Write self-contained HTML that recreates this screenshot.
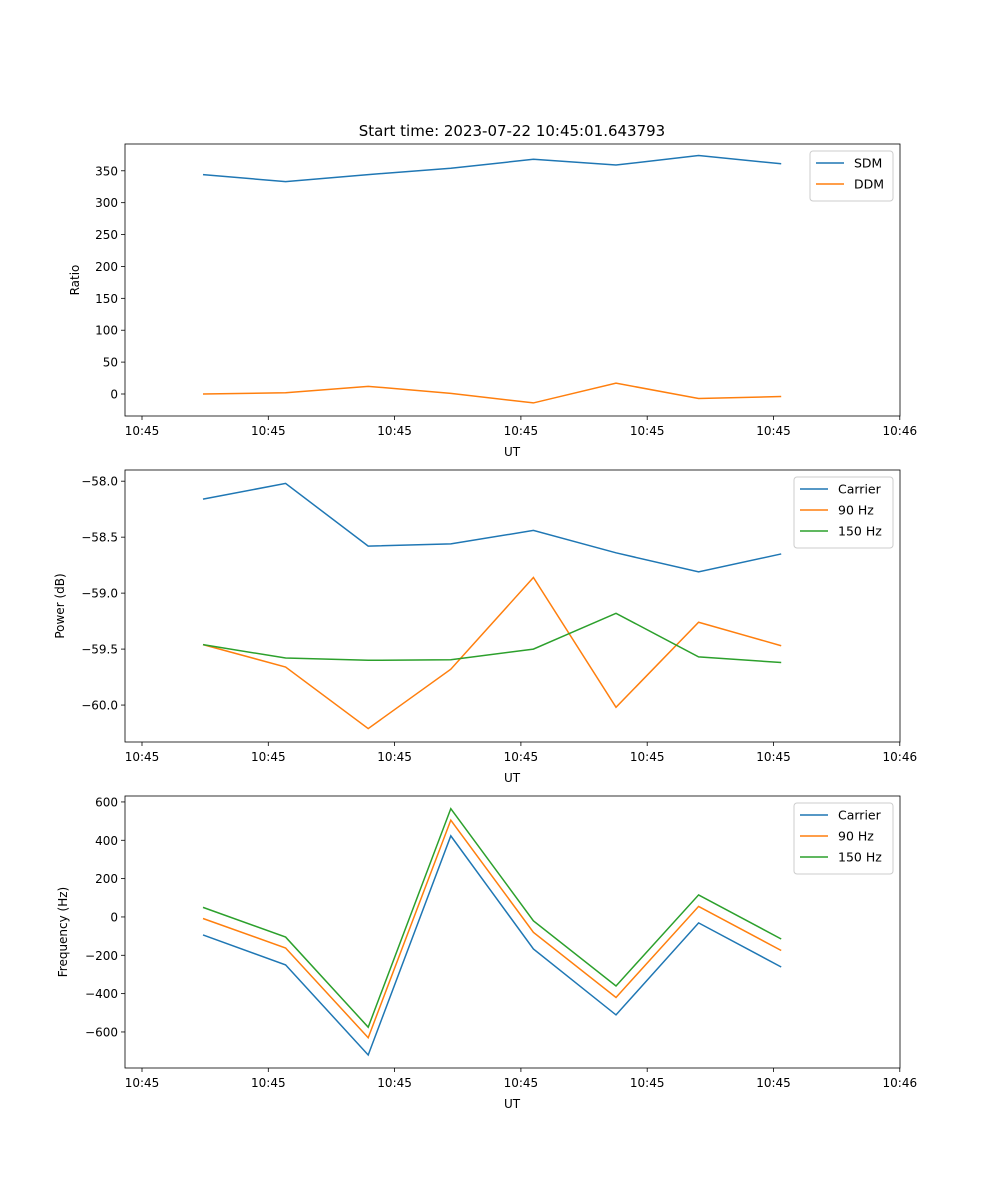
<!DOCTYPE html>
<html><head><meta charset="utf-8"><style>body{margin:0;background:#fff}svg{display:block;font-family:"DejaVu Sans","Liberation Sans",sans-serif}</style></head>
<body>
<svg id="chart" width="1000" height="1200" xmlns="http://www.w3.org/2000/svg">
<text x="512" y="136" font-size="15" text-anchor="middle">Start time: 2023-07-22 10:45:01.643793</text>
</svg>
<script>
const tickLabels = ["10:45","10:45","10:45","10:45","10:45","10:45","10:46"];
const tickSecs = [0,1,2,3,4,5,6];
const times = [0.483,1.137,1.791,2.445,3.099,3.753,4.407,5.061];
const sdm = [344,333,344,354,368,359,374,361];
const ddm = [0,2,12,1,-14,17,-7,-4];
const powCarrier = [-58.16,-58.02,-58.58,-58.56,-58.44,-58.64,-58.81,-58.65];
const pow90 = [-59.46,-59.66,-60.21,-59.68,-58.86,-60.02,-59.26,-59.47];
const pow150 = [-59.46,-59.58,-59.60,-59.595,-59.50,-59.18,-59.57,-59.62];
const freqCarrier = [-94,-250,-720,423,-167,-511,-31,-261];
const freq90 = [-8,-162,-630,505,-80,-420,55,-175];
const freq150 = [50,-105,-575,565,-20,-360,115,-115];
const ticks1 = [0,50,100,150,200,250,300,350];
const ticks2 = [-60.0,-59.5,-59.0,-58.5,-58.0];
const ticks3 = [-600,-400,-200,0,200,400,600];
const C = ["#1f77b4","#ff7f0e","#2ca02c"];
const svg = document.getElementById('chart');
const NS = "http://www.w3.org/2000/svg";
function mk(tag, attrs, parent){const e=document.createElementNS(NS,tag);for(const k in attrs)e.setAttribute(k,attrs[k]);(parent||svg).appendChild(e);return e;}
const L=125,R=900;
const xs = t => 142 + t*126.3;
function panel(id, top, bottom, ymin, ymax, yticks, fmt, ylabel, ylx, series, names, legW){
  const g=mk('g',{});
  
  
  const ys = v => bottom - (v-ymin)/(ymax-ymin)*(bottom-top);
  yticks.forEach(v=>{const y=ys(v);
    mk('line',{x1:L-4,x2:L,y1:y,y2:y,stroke:'#000','stroke-width':0.8},g);
    const t=mk('text',{x:L-7,y:y+4.5,'font-size':12,'text-anchor':'end'},g);t.textContent=fmt(v);
    
    });
  tickSecs.forEach((s,i)=>{const x=xs(s);
    mk('line',{x1:x,x2:x,y1:bottom,y2:bottom+4,stroke:'#000','stroke-width':0.8},g);
    const t=mk('text',{x:x,y:bottom+19,'font-size':12,'text-anchor':'middle'},g);t.textContent=tickLabels[i];
    
    });
  const xl=mk('text',{x:512,y:bottom+40,'font-size':12,'text-anchor':'middle'},g);xl.textContent='UT';
  
  
  const yl=mk('text',{x:0,y:0,'font-size':12,'text-anchor':'middle',transform:`translate(${ylx},${(top+bottom)/2}) rotate(-90)`},g);yl.textContent=ylabel;
  
  
  series.forEach((d,k)=>{
    const p=mk('polyline',{points:d.map((v,i)=>xs(times[i])+','+ys(v)).join(' '),fill:'none',stroke:C[k],'stroke-width':1.5},g);
    
    
  });
  mk('rect',{x:L,y:top,width:R-L,height:bottom-top,fill:'none',stroke:'#000','stroke-width':0.8},g);
  const lx=R-7-legW, ly=top+7;
  const lg=mk('g',{},g);
  
  
  mk('rect',{x:lx,y:ly,width:legW,height:8+names.length*21,rx:3,fill:'#fff',stroke:'#ccc','stroke-width':1},lg);
  names.forEach((n,k)=>{const yy=ly+12+k*21;
    mk('line',{x1:lx+6,x2:lx+34,y1:yy,y2:yy,stroke:C[k],'stroke-width':1.5},lg);
    const t=mk('text',{x:lx+44,y:yy+4.5,'font-size':12.5},lg);t.textContent=n;
    
    });
}
panel('ratio-panel',144,416,-34.5,392,ticks1,v=>String(v),'Ratio',79,[sdm,ddm],['SDM','DDM'],83);
panel('power-panel',470,742,-60.33,-57.90,ticks2,v=>(v<0?'\u2212':'')+Math.abs(v).toFixed(1),'Power (dB)',64,[powCarrier,pow90,pow150],['Carrier','90 Hz','150 Hz'],99);
panel('frequency-panel',796,1068,-788,631,ticks3,v=>(v<0?'\u2212':'')+Math.abs(v),'Frequency (Hz)',67,[freqCarrier,freq90,freq150],['Carrier','90 Hz','150 Hz'],99);
</script>
</body></html>
